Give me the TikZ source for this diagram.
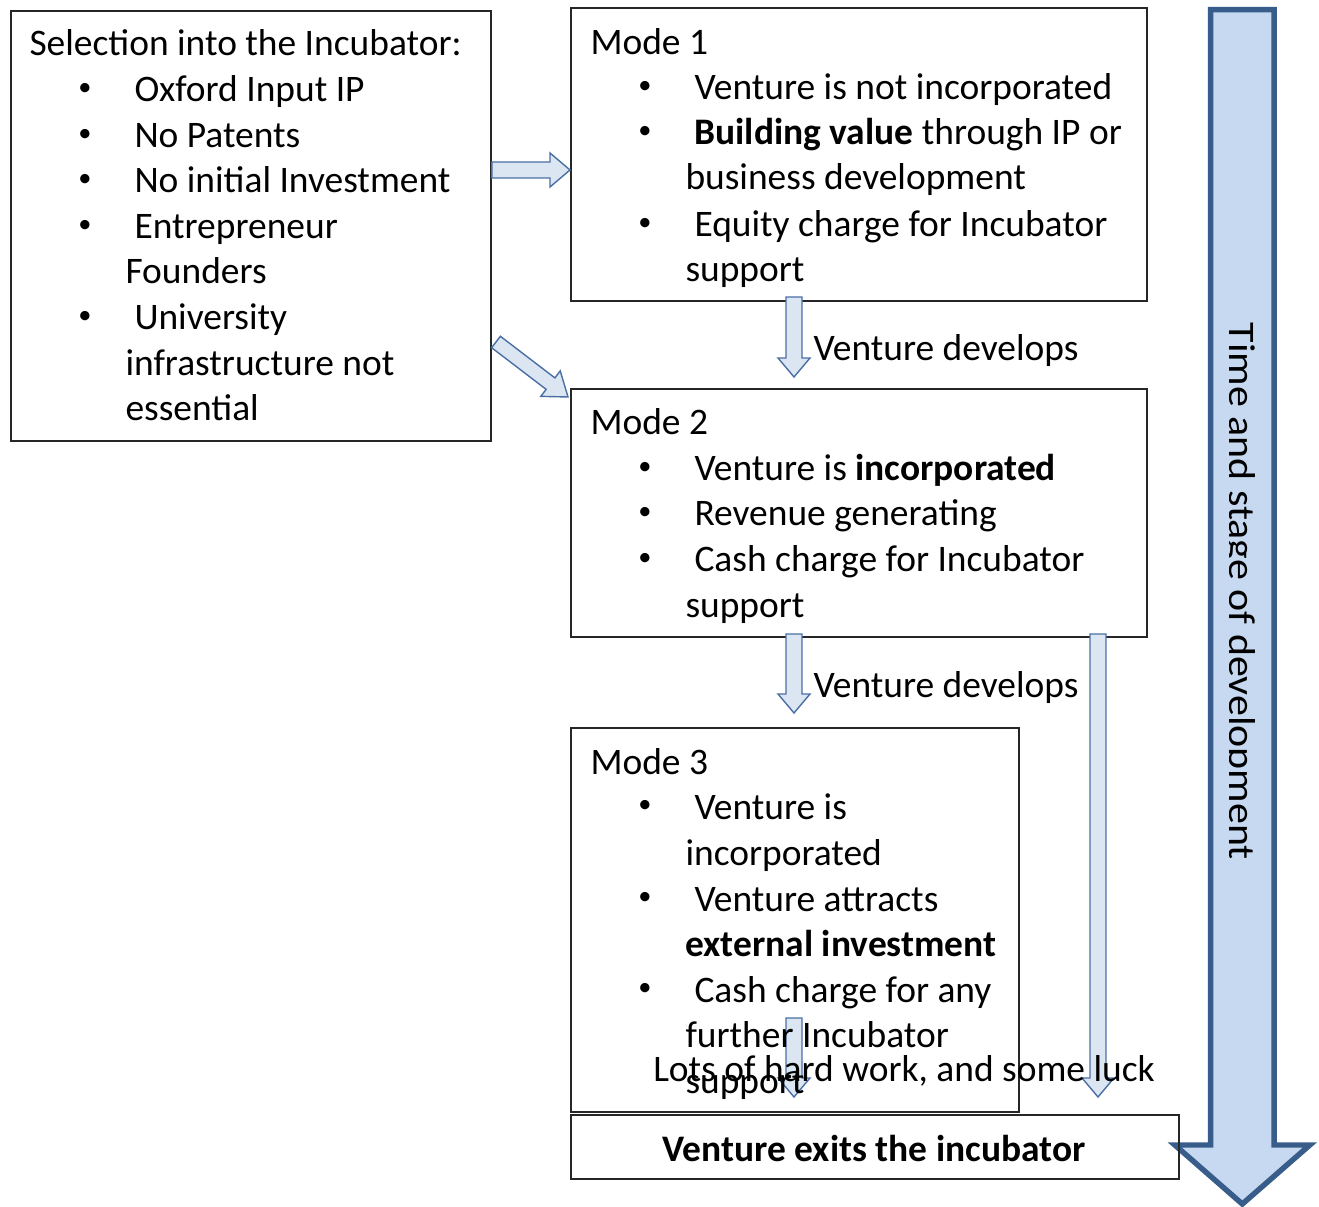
\documentclass[tikz,border=0pt]{standalone}
\usepackage{fontspec}
\setmainfont{Carlito}
\usetikzlibrary{calc}
\definecolor{bigfill}{HTML}{C6D9F1}
\definecolor{bigline}{HTML}{385D8A}
\definecolor{smfill}{HTML}{DCE6F2}
\definecolor{smline}{HTML}{4A6FA5}
\newcommand\fs{\fontsize{10.65}{13.1}\selectfont}
\tikzset{
 box/.style={draw=black!85, line width=0.45pt, inner sep=0pt, anchor=north west},
 txt/.style={anchor=base west, inner sep=0pt, font=\fs, xshift=-0.012cm, yshift=-0.02cm},
 ctxt/.style={anchor=base, inner sep=0pt, font=\fs, yshift=-0.02cm},
 bul/.style={anchor=center, inner sep=0pt, font=\fontsize{7.5}{9}\selectfont},
 smarrow/.style={fill=smfill, draw=smline, line width=0.4pt, line join=miter},
 bigarrow/.style={fill=bigfill, draw=bigline, line width=1.55pt, line join=miter},
}
% #1 style, #2 name, #3 tail, #4 tip, #5 shaft half width, #6 head half width, #7 head length
\newcommand\blockarr[7][smarrow]{%
 \coordinate (#2t) at #3; \coordinate (#2p) at #4;
 \coordinate (#2h) at ($(#2p)!#7!(#2t)$);
 \draw[#1] ($(#2t)!#5!90:(#2p)$) -- ($(#2h)!#5!90:(#2p)$) -- ($(#2h)!#6!90:(#2p)$)
   -- (#2p) -- ($(#2h)!#6!-90:(#2p)$) -- ($(#2h)!#5!-90:(#2p)$) -- ($(#2t)!#5!-90:(#2p)$) -- cycle;}
\begin{document}
\begin{tikzpicture}[x=0.01cm,y=-0.01cm]
\useasboundingbox (0,0) rectangle (1319,1207);
% big time arrow
\blockarr[bigarrow]{big}{(1242.3,9.7)}{(1242.3,1204)}{0.3175cm}{0.675cm}{0.59cm}
\begin{scope}
\clip (1229.5,300) rectangle (1272,900);
\node[anchor=base west, inner sep=0pt, font=\fs, rotate=-90, xscale=1.12] (time) at (1229,322) {Time and stage of development};
\end{scope}
% boxes
\node[box, minimum width=4.8cm, minimum height=4.3cm] (sel) at (10,10) {};
\node[box, minimum width=5.76cm, minimum height=2.93cm] (m1) at (570,7) {};
\node[box, minimum width=5.76cm, minimum height=2.48cm] (m2) at (570,388) {};
\node[box, minimum width=4.48cm, minimum height=3.84cm] (m3) at (570,727) {};
\node[box, minimum width=6.08cm, minimum height=0.64cm] (exit) at (570,1114) {};
% small arrows
\blockarr{a1}{($(sel.north east)+(0,160)$)}{($(m1.north west)+(0,163)$)}{0.08cm}{0.17cm}{0.2cm}
\blockarr{a2}{(496,342)}{(568,397)}{0.072cm}{0.16cm}{0.22cm}
\blockarr{a3}{(794,297)}{(794,377)}{0.08cm}{0.16cm}{0.19cm}
\blockarr{a4}{(794,634)}{(794,713)}{0.08cm}{0.16cm}{0.19cm}
\blockarr{a5}{(794,1018)}{(794,1097)}{0.08cm}{0.16cm}{0.19cm}
\blockarr{a6}{(1098,634)}{(1098,1097)}{0.08cm}{0.16cm}{0.19cm}
% left box text
\node[txt] (s0) at (30,54) {Selection into the Incubator:};
\foreach \y in {100,146,191,237,328} \node[bul] at (85,\y-11) {•};
\node[txt] (s1) at (135,100) {Oxford Input IP};
\node[txt] (s2) at (135,146) {No Patents};
\node[txt] (s3) at (135,191) {No initial Investment};
\node[txt] (s4) at (135,237) {Entrepreneur};
\node[txt] (s4b) at (126,282) {Founders};
\node[txt] (s5) at (135,328) {University};
\node[txt] (s5b) at (126,374) {infrastructure not};
\node[txt] (s5c) at (126,419) {essential};
% mode 1
\node[txt] (m1t) at (591,53) {Mode 1};
\foreach \y in {98,143,235} \node[bul] at (645,\y-11) {•};
\node[txt] (m1a) at (695,98) {Venture is not incorporated};
\node[txt] (m1b) at (695,143) {\textbf{Building value} through IP or};
\node[txt] (m1bb) at (686,188) {business development};
\node[txt] (m1c) at (695,235) {Equity charge for Incubator};
\node[txt] (m1cc) at (686,280) {support};
% mode 2
\node[txt] (m2t) at (591,433) {Mode 2};
\foreach \y in {479,524,570} \node[bul] at (645,\y-11) {•};
\node[txt] (m2a) at (695,479) {Venture is \textbf{incorporated}};
\node[txt] (m2b) at (695,524) {Revenue generating};
\node[txt] (m2c) at (695,570) {Cash charge for Incubator};
\node[txt] (m2cc) at (686,615) {support};
% mode 3
\node[txt] (m3t) at (591,772) {Mode 3};
\foreach \y in {817,909,1000} \node[bul] at (645,\y-11) {•};
\node[txt] (m3a) at (695,817) {Venture is};
\node[txt] (m3aa) at (686,863) {incorporated};
\node[txt] (m3b) at (695,909) {Venture attracts};
\node[txt] (m3bb) at (686,954) {\textbf{external investment}};
\node[txt] (m3c) at (695,1000) {Cash charge for any};
\node[txt] (m3cc) at (686,1045) {further Incubator};
\node[txt] (m3ccc) at (686,1091) {support};
% labels
\node[txt] (vd1) at (814,359) {Venture develops};
\node[txt] (vd2) at (814,695) {Venture develops};
\node[ctxt] (lots) at (904,1079) {Lots of hard work, and some luck};
\node[ctxt] (exitt) at (874,1159) {\textbf{Venture exits the incubator}};
\end{tikzpicture}
\end{document}
